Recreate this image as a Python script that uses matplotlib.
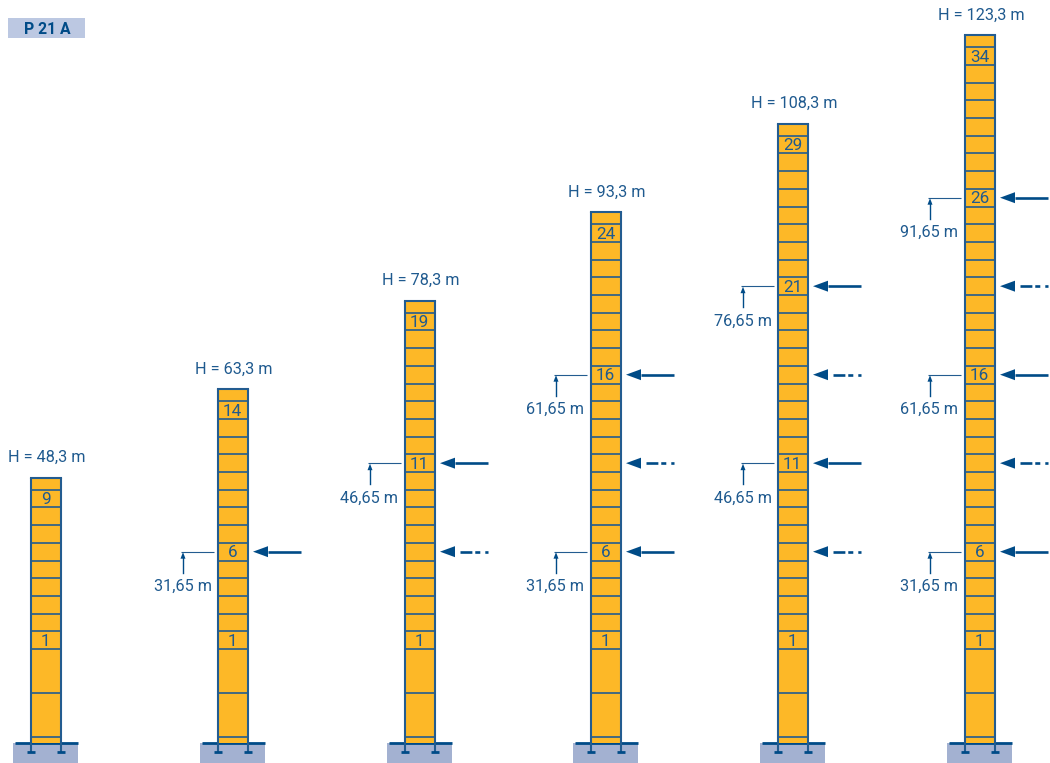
import matplotlib
matplotlib.use("Agg")
import matplotlib.pyplot as plt
from matplotlib.patches import Rectangle, Polygon

plt.rcParams['font.family'] = ['Roboto', 'Liberation Sans']

# --- data -----------------------------------------------------------------
tower_left = [31, 218, 405, 591, 778, 965]
floors = [9, 14, 19, 24, 29, 34]
heights = ["48,3", "63,3", "78,3", "93,3", "108,3", "123,3"]
floor_labels = [[1, 9], [1, 6, 14], [1, 11, 19], [1, 6, 16, 24], [1, 11, 21, 29], [1, 6, 16, 26, 34]]
solid_floors = [[], [6], [11], [6, 16], [11, 21], [6, 16, 26]]
dashed_floors = [[], [], [6], [11], [6, 16], [11, 21]]
level_names = {6: "31,65", 11: "46,65", 16: "61,65", 21: "76,65", 26: "91,65"}
lower_slabs = [0, -2.49, -4.97]

YELLOW = "#FDB827"
EDGE = "#235C90"
BLUE = "#004B87"
BASE = "#A3B1D1"
TAG = "#BCC8E2"
TXT = "#1F5A8F"
PX = 17.7
BASE_Y = -5.31
FOOT_Y = -5.82
ROOF = 0.68
W = 30
FS = 11.7

fig = plt.figure(figsize=(10.5, 7.63), dpi=100)
ax = fig.add_axes([0, 0, 1, 1])
ax.set_xlim(0, 1050)
ax.set_ylim(-6.44, 36.67)
ax.axis("off")

def arrow(tip, tail, y, dashed=False):
    head_l, head_w = 15, 11
    base = tip + head_l
    if dashed:
        ax.plot([base + 5, tail], [y, y], color=BLUE, lw=1.9,
                dashes=(4.5, 1.1, 1.9, 1.9), dash_capstyle="butt")
    else:
        ax.plot([base, tail], [y, y], color=BLUE, lw=1.9, solid_capstyle="butt")
    ax.add_patch(Polygon([(tip, y), (base, y + head_w / 2 / PX), (base, y - head_w / 2 / PX)],
                         closed=True, color=BLUE, lw=0))

ax.add_patch(Rectangle((8, (649 - 38) / PX), 77, 20 / PX, color=TAG, lw=0))
ax.text(47.5, (649 - 29) / PX, "P 21 A", ha="center", va="center", color=BLUE,
        fontsize=11.3, fontweight="bold")

for left, n, h, labs, sol, dash in zip(tower_left, floors, heights, floor_labels, solid_floors, dashed_floors):
    right = left + W
    mid = left + W / 2
    top = n + ROOF
    # foundation
    ax.add_patch(Rectangle((left - 18, -6.44), 65, 6.44 + BASE_Y, color=BASE, lw=0))
    ax.plot([left - 16, left + 47], [BASE_Y, BASE_Y], color=BLUE, lw=2, solid_capstyle="butt")
    # shaft
    ax.add_patch(Rectangle((left, BASE_Y), W, top - BASE_Y, facecolor=YELLOW, edgecolor="none", zorder=2))
    for k in lower_slabs + list(range(1, n + 1)):
        ax.plot([left - 1, right + 1], [k, k], color=EDGE, lw=1.2, solid_capstyle="butt", zorder=3)
    ax.plot([left, right], [top, top], color=EDGE, lw=1.5, zorder=3)
    for x in (left, right):
        ax.plot([x, x], [FOOT_Y, top], color=EDGE, lw=1.5, zorder=3, solid_capstyle="butt")
        ax.plot([x - 4, x + 4], [FOOT_Y, FOOT_Y], color=BLUE, lw=2, zorder=3, solid_capstyle="butt")
    # labels
    for f in labs:
        ax.text(mid - 0.5, f - 0.5 - 1 / PX, str(f), ha="center", va="center", color=TXT, fontsize=FS + 0.6, zorder=4)
    ax.text(mid + 1, top + 1.25 - 2 / PX, f"H = {h} m", ha="center", va="center", color=TXT, fontsize=FS)
    # markers
    for f in sol + dash:
        arrow(right + 5, right + 53, f - 0.5, dashed=f in dash)
    for f in sol:
        y = f - 0.5
        ax.plot([left - 37, left - 4], [y, y], color=EDGE, lw=0.8, solid_capstyle="butt")
        ax.plot([left - 35, left - 35], [y - 21 / PX, y - 6 / PX], color=BLUE, lw=1)
        ax.add_patch(Polygon([(left - 35, y - 0.5 / PX), (left - 37.5, y - 7 / PX), (left - 32.5, y - 7 / PX)],
                             closed=True, color=BLUE, lw=0))
        ax.text(left - 6.5, y - 35 / PX, f"{level_names[f]} m", ha="right", va="center", color=TXT, fontsize=FS)

fig.savefig("out.png", dpi=100)
